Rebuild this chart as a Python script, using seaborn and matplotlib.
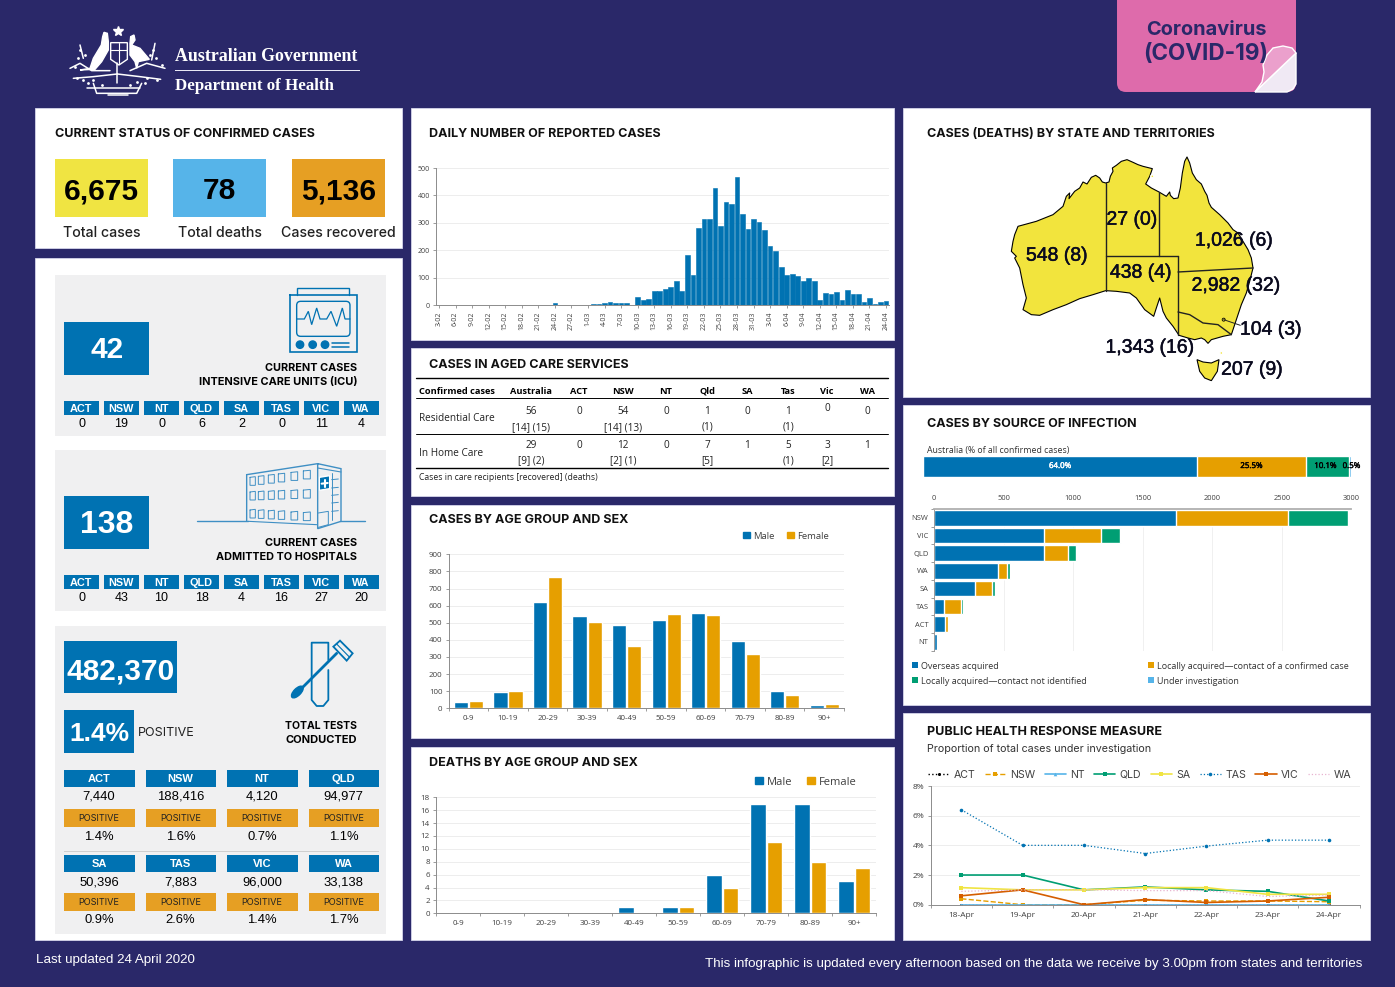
import numpy as np
import pandas as pd
import seaborn as sns
import matplotlib.pyplot as plt
from matplotlib.patches import Rectangle, Polygon, FancyBboxPatch, Circle, Ellipse
from matplotlib.patches import Patch
import matplotlib.patheffects as pe

W, H = 1395, 987
NAVY = '#2A2869'
BLUE = '#0072B2'
ORANGE = '#E69F00'
GREEN = '#009E73'
SKY = '#56B4E9'
YELLOW = '#F0E442'
PANEL_GREY = '#F0F0F1'
HEAD_FONT = 'Inter'
BODY_FONT = 'Open Sans'
NUM_FONT = 'Liberation Sans'

# --- data ---
status_values = ['6,675', '78', '5,136']
status_labels = ['Total cases', 'Total deaths', 'Cases recovered']

states = ['ACT', 'NSW', 'NT', 'QLD', 'SA', 'TAS', 'VIC', 'WA']
icu_cases = [0, 19, 0, 6, 2, 0, 11, 4]
hospital_cases = [0, 43, 10, 18, 4, 16, 27, 20]
tests_done = ['7,440', '188,416', '4,120', '94,977', '50,396', '7,883', '96,000', '33,138']
tests_positive = ['1.4%', '1.6%', '0.7%', '1.1%', '0.9%', '2.6%', '1.4%', '1.7%']

daily_dates = pd.date_range('2020-02-03', '2020-04-24')
daily_cases = [0, 0, 0, 0, 0, 0, 0, 0, 0, 0, 0, 0, 0, 0, 0, 0, 0, 0, 0, 0, 0, 6, 0, 0, 0, 0, 0,
               0, 5, 5, 8, 10, 8, 8, 7, 0, 30, 17, 22, 52, 50, 58, 65, 86, 51, 181, 108, 280, 315,
               313, 426, 287, 377, 367, 468, 331, 279, 313,
               303, 272, 216, 198, 138, 108, 113, 105, 88, 99, 88, 20, 44, 41, 47, 20, 54, 41, 41,
               11, 26, 5, 11, 14]

care_columns = ['Australia', 'ACT', 'NSW', 'NT', 'Qld', 'SA', 'Tas', 'Vic', 'WA']
residential_counts = ['56', '0', '54', '0', '1', '0', '1', '0', '0']
residential_extra = ['[14] (15)', '', '[14] (13)', '', '(1)', '', '(1)', '', '']
home_counts = ['29', '0', '12', '0', '7', '1', '5', '3', '1']
home_extra = ['[9] (2)', '', '[2] (1)', '', '[5]', '', '(1)', '[2]', '']

age_groups = ['0-9', '10-19', '20-29', '30-39', '40-49', '50-59', '60-69', '70-79', '80-89', '90+']
cases_male = [37, 95, 620, 537, 485, 518, 558, 392, 100, 20]
cases_female = [40, 102, 770, 507, 362, 552, 547, 318, 80, 25]
deaths_male = [0, 0, 0, 0, 1, 1, 6, 17, 17, 5]
deaths_female = [0, 0, 0, 0, 0, 1, 4, 11, 8, 7]

source_names = ['Overseas acquired', 'Locally acquired\u2014contact of a confirmed case',
                'Locally acquired\u2014contact not identified', 'Under investigation']
source_share = [64.0, 25.5, 10.1, 0.5]
source_states = ['NSW', 'VIC', 'QLD', 'WA', 'SA', 'TAS', 'ACT', 'NT']
source_overseas = [1737, 791, 791, 462, 295, 74, 77, 22]
source_contact = [808, 409, 172, 63, 124, 122, 21, 3]
source_unknown = [434, 140, 60, 19, 17, 10, 5, 2]
source_pending = [3, 3, 3, 4, 2, 1, 1, 0]

response_days = ['18-Apr', '19-Apr', '20-Apr', '21-Apr', '22-Apr', '23-Apr', '24-Apr']
response_act = [0, 0, 0, 0, 0, 0, 0]
response_nsw = [0.4, 0, 0, 0.3, 0.25, 0.25, 0.2]
response_nt = [0, 0, 0, 0, 0, 0, 0]
response_qld = [2.0, 2.0, 1.0, 1.2, 1.0, 0.9, 0.25]
response_sa = [1.15, 1.0, 1.0, 1.15, 1.15, 0.7, 0.7]
response_tas = [6.4, 4.0, 4.0, 3.45, 3.95, 4.35, 4.35]
response_vic = [0.6, 1.0, 0, 0.35, 0.15, 0.25, 0.5]
response_wa = [0.9, 1.0, 1.0, 0.95, 0.95, 0.55, 0.65]

map_labels = ['548 (8)', '27 (0)', '438 (4)', '1,026 (6)', '2,982 (32)', '104 (3)', '1,343 (16)', '207 (9)']

# map outline
mainland = [(608, 225), (618, 222), (622, 205), (630, 190), (628, 180), (640, 172), (655, 160), (672, 155), (690, 163),
            (705, 170), (720, 175), (748, 182), (740, 205), (728, 228), (745, 240), (768, 252), (790, 265),
            (800, 252), (802, 262), (812, 272), (825, 270), (832, 240), (838, 195), (845, 160), (852, 147),
            (860, 165), (868, 195), (880, 215), (895, 228), (905, 250), (912, 262), (918, 285), (925, 298),
            (950, 320), (975, 345), (990, 365), (1005, 375), (1020, 400), (1035, 425), (1045, 450), (1050, 480),
            (1040, 520), (1030, 555), (1015, 590), (1005, 620), (995, 650), (985, 680), (960, 685), (925, 695),
            (915, 706), (905, 695), (895, 690), (875, 695), (855, 690), (828, 682), (810, 655), (790, 630),
            (780, 610), (770, 570), (760, 600), (752, 625), (725, 605), (700, 570), (680, 555), (640, 550),
            (608, 548), (570, 560), (530, 572), (490, 590), (450, 605), (410, 622), (385, 620), (360, 605),
            (370, 570), (360, 530), (350, 480), (335, 450), (340, 445), (325, 430), (330, 400), (335, 380),
            (345, 355), (400, 340), (450, 320), (480, 295), (490, 265), (500, 255), (498, 272), (515, 250),
            (530, 240), (540, 222), (552, 228), (565, 208), (578, 202), (590, 210), (598, 222)]
tasmania = [(882, 755), (900, 762), (925, 765), (948, 755), (943, 790), (925, 818), (905, 810), (890, 790)]
borders = [[(608, 225), (608, 548)], [(608, 445), (825, 445)], [(769, 252), (769, 445)], [(825, 445), (825, 682)],
           [(825, 492), (1050, 480)], [(825, 612), (860, 620), (900, 645), (945, 650), (985, 680)]]

sns.set_theme(style='white')
plt.rcParams['font.family'] = [BODY_FONT, 'DejaVu Sans']
plt.rcParams['axes.unicode_minus'] = False

fig = plt.figure(figsize=(W / 100 + 0.0001, H / 100 + 0.0001), dpi=100, facecolor=NAVY)
bg = fig.add_axes([0, 0, 1, 1], zorder=0)
bg.set_xlim(0, W)
bg.set_ylim(H, 0)
bg.axis('off')


def px_axes(x0, y0, x1, y1):
    ax = fig.add_axes([x0 / W, 1 - y1 / H, (x1 - x0) / W, (y1 - y0) / H], zorder=2)
    ax.patch.set_alpha(0)
    return ax


def box(x0, y0, x1, y1, color, **kw):
    bg.add_patch(Rectangle((x0, y0), x1 - x0, y1 - y0, facecolor=color, edgecolor=kw.pop('edge', 'none'),
                           linewidth=kw.pop('lw', 0), **kw))


def label(x, y, s, size, ha='center', color='black', font=HEAD_FONT, weight='normal', **kw):
    # va center sits a bit high for caps, so nudge down
    return bg.text(x, y + 1.2, s, fontsize=size, ha=ha, va='center', color=color, family=[font, 'DejaVu Sans'],
                   fontweight=weight, **kw)


def title(x, y, s):
    label(x, y, s, 9.0, ha='left', color='#111111', weight='bold')


def style_chart(ax, tick_size):
    sns.despine(ax=ax)
    ax.set_xlabel('')
    ax.set_ylabel('')
    ax.set_axisbelow(True)
    ax.grid(axis='y', color='#EDEDED', lw=0.7)
    ax.grid(axis='x', visible=False)
    for side in ['left', 'bottom']:
        ax.spines[side].set_color('#8C8C8C')
        ax.spines[side].set_linewidth(0.7)
    ax.tick_params(axis='both', labelsize=tick_size, labelcolor='#404040', color='#8C8C8C', length=2.5,
                   width=0.6, pad=2, bottom=True, left=True)


# --- panels ---
for x0, y0, x1, y1 in [(35, 108, 402, 248), (35, 258, 402, 940), (411, 108, 894, 340), (411, 348, 894, 496),
                       (411, 505, 894, 738), (411, 747, 894, 940), (903, 108, 1370, 397), (903, 405, 1370, 705),
                       (903, 713, 1370, 940)]:
    box(x0, y0, x1, y1, 'white', edge='#D5D5EA', lw=0.6)

# --- header ---
box(175, 70, 360, 71, '#E8E8F4')
label(175, 55, 'Australian Government', 12.85, ha='left', color='white', font='Liberation Serif', weight='bold')
label(175, 85, 'Department of Health', 12.2, ha='left', color='white', font='Liberation Serif', weight='bold')


def logo_xy(points):
    return [(30 + x / 3, y / 3) for x, y in points]


# coat of arms, just a rough sketch
bg.add_patch(Polygon(logo_xy([(242, 128), (292, 128), (292, 178), (267, 195), (242, 178)]), facecolor=NAVY,
                     edgecolor='white', lw=1.0))
bg.add_patch(Polygon(logo_xy([(232, 100), (222, 97), (218, 110), (214, 135), (190, 175), (180, 205), (150, 210),
                              (195, 208), (215, 185), (235, 150), (235, 125)]), facecolor='white'))
bg.add_patch(Polygon(logo_xy([(302, 110), (312, 105), (315, 120), (305, 135), (330, 145), (358, 178), (325, 185),
                              (320, 205), (315, 185), (300, 165), (300, 130)]), facecolor='white'))
bg.plot(30 + 263 / 3, 93 / 3, marker='*', ms=7, color='white')
for pts in [[(120, 205), (150, 190), (185, 212), (240, 212)], [(300, 212), (350, 190), (405, 205)],
            [(130, 235), (190, 230), (262, 222)], [(262, 222), (330, 230), (392, 238)],
            [(262, 190), (262, 250)], [(170, 265), (330, 265)], [(190, 250), (200, 280), (320, 280), (335, 250)],
            [(150, 135), (160, 175)], [(375, 130), (365, 180)], [(235, 285), (295, 285)]]:
    xs, ys = zip(*logo_xy(pts))
    bg.plot(xs, ys, color='white', lw=1.1, solid_capstyle='round')
for pts in [[(242, 150), (292, 150)], [(267, 128), (267, 190)]]:
    xs, ys = zip(*logo_xy(pts))
    bg.plot(xs, ys, color='white', lw=0.8)
flora = [(150, 150), (165, 165), (145, 175), (160, 240), (140, 235), (190, 240), (215, 255), (370, 150), (360, 165),
         (378, 175), (350, 235), (380, 240), (320, 245), (300, 255), (135, 200), (395, 195), (175, 250), (345, 250)]
xs, ys = zip(*logo_xy(flora))
bg.plot(xs, ys, ls='', marker='o', ms=2, color='white', mew=0)

bg.add_patch(FancyBboxPatch((1117, -30), 179, 122, boxstyle='round,pad=0,rounding_size=9', facecolor='#DE6BAB',
                            edgecolor='none'))
bg.add_patch(Polygon([(1296, 53), (1296, 84), (1293, 89), (1287, 92), (1255, 92)], facecolor='#F0E9F4'))
bg.add_patch(Polygon([(1263, 65), (1267, 55), (1273, 48), (1283, 46), (1292, 48), (1296, 53), (1255, 92), (1262, 82),
                      (1264, 72)], facecolor='#EBA0CC'))
label(1206, 29, 'Coronavirus', 14.4, color=NAVY, weight='bold')
label(1206, 53, '(COVID-19)', 16.2, color=NAVY, weight='bold')

# --- current status ---
title(55, 133, 'CURRENT STATUS OF CONFIRMED CASES')
for x0, color, value, name in zip([55, 173, 292], [YELLOW, SKY, '#E69F23'], status_values, status_labels):
    box(x0, 159, x0 + 93, 217, color)
    label(x0 + 46.5, 190, value, 21.5, font=NUM_FONT, weight='bold')
    label(x0 + 46.5, 231.5, name, 10.2, color='#222222', weight=500)


# --- ICU / hospital ---
def state_row(top, values):
    for i, (state, value) in enumerate(zip(states, values)):
        x0 = 64 + 40 * i
        box(x0, top, x0 + 34.5, top + 14.5, BLUE)
        label(x0 + 17, top + 6.5, state, 7.8, color='white', font=NUM_FONT, weight='bold')
        label(x0 + 17.5, top + 21.5, str(value), 9, font=NUM_FONT)


box(55, 275, 386, 436, PANEL_GREY)
box(64, 322, 149, 375, BLUE)
label(107, 349, '42', 21.5, color='white', font=NUM_FONT, weight='bold')
label(357, 367, 'CURRENT CASES', 7.85, ha='right', weight='bold')
label(357, 381, 'INTENSIVE CARE UNITS (ICU)', 7.9, ha='right', weight='bold')
state_row(401, icu_cases)


def icon_a(points):
    return [(35 + x / 3, 258 + y / 3) for x, y in points]


def icon_line(points, lw=1.0, color=BLUE):
    xs, ys = zip(*icon_a(points))
    bg.plot(xs, ys, color=color, lw=lw, solid_joinstyle='miter')


# monitor icon
icon_line([(787, 112), (787, 90), (943, 90), (943, 112)])
icon_line([(765, 112), (967, 112), (967, 283), (765, 283), (765, 112)], 1.2)
bg.add_patch(FancyBboxPatch(icon_a([(785, 130)])[0], 53.3, 35, boxstyle='round,pad=0,rounding_size=4', fill=False,
                            edgecolor=BLUE, lw=1.0))
icon_line([(785, 183), (808, 183), (820, 160), (830, 200), (845, 150), (855, 183), (875, 183), (888, 160), (905, 205),
           (922, 150), (930, 183), (945, 183)], 0.9)
for cx in [795, 833, 870]:
    bg.add_patch(Circle(icon_a([(cx, 260)])[0], 3.7, color=BLUE))
icon_line([(890, 254), (942, 254)], 1.1)
icon_line([(890, 266), (942, 266)], 1.1)

box(55, 450, 386, 611.5, PANEL_GREY)
box(64, 496, 149, 549, BLUE)
label(107, 523.5, '138', 23, color='white', font=NUM_FONT, weight='bold')
label(357, 541.5, 'CURRENT CASES', 7.85, ha='right', weight='bold')
label(357, 555.5, 'ADMITTED TO HOSPITALS', 7.8, ha='right', weight='bold')
state_row(575, hospital_cases)

# hospital icon
SOFT = '#3F8FC4'
icon_line([(485, 790), (640, 790)], 1.0, SOFT)
icon_line([(915, 790), (990, 790)], 1.0, SOFT)
icon_line([(635, 790), (635, 650), (848, 617), (848, 812), (918, 790), (918, 632), (848, 617)], 1.0, SOFT)
icon_line([(848, 630), (918, 642)], 0.8, SOFT)
icon_line([(640, 790), (845, 800)], 0.8, SOFT)
for row, yy in enumerate([672, 716, 770]):
    for col, xx in enumerate([645, 670, 700, 730, 768, 805]):
        rise = (xx - 645) * 0.12 * (1 - row / 2.2)
        drop = (xx - 645) * 0.03 * row
        icon_line([(xx, yy - 14 - rise + drop), (xx + 16 + col, yy - 16 - rise + drop),
                   (xx + 16 + col, yy + 10 - rise + drop), (xx, yy + 10 - rise + drop), (xx, yy - 14 - rise + drop)],
                  0.7, SOFT)
for yy in [665, 690, 712, 735, 760]:
    icon_line([(890, yy), (910, yy - 2)], 0.7, SOFT)
icon_line([(890, 645), (890, 785)], 0.7, SOFT)
bg.add_patch(Polygon(icon_a([(853, 658), (884, 653), (884, 692), (853, 697)]), facecolor=BLUE))
icon_line([(860, 677), (878, 675)], 1.5, 'white')
icon_line([(869, 666), (869, 686)], 1.5, 'white')
icon_line([(850, 765), (880, 760), (880, 800), (850, 808)], 0.7, SOFT)

# --- tests ---
box(55, 626, 386, 934, PANEL_GREY)
box(64, 641, 177, 693, BLUE)
label(120.5, 670, '482,370', 21.5, color='white', font=NUM_FONT, weight='bold')
box(64, 710, 134, 753, BLUE)
label(99, 733, '1.4%', 19, color='white', font=NUM_FONT, weight='bold')
label(138, 732, 'POSITIVE', 9.0, ha='left', color='#222222')
label(357, 724.5, 'TOTAL TESTS', 7.5, ha='right', weight='bold')
label(357, 738.5, 'CONDUCTED', 8.0, ha='right', weight='bold')


def icon_b(points):
    return [(35 + x / 3, 620 + y / 3) for x, y in points]


xs, ys = zip(*icon_b([(880, 120), (880, 68), (830, 68), (830, 240), (845, 258), (865, 258), (880, 240), (880, 150)]))
bg.plot(xs, ys, color=BLUE, lw=1.3)
xs, ys = zip(*icon_b([(785, 220), (905, 100)]))
bg.plot(xs, ys, color=BLUE, lw=2.0)
bg.add_patch(Ellipse(icon_b([(787, 216)])[0], 15, 7, angle=-45, color=BLUE))
bg.add_patch(Polygon(icon_b([(895, 80), (915, 62), (953, 100), (935, 122)]), facecolor=PANEL_GREY, edgecolor=BLUE, lw=1.3))
xs, ys = zip(*icon_b([(905, 72), (944, 112)]))
bg.plot(xs, ys, color=BLUE, lw=0.8)

box(64, 851, 379, 851.7, '#CFCFCF')
for i, state in enumerate(states):
    row, col = divmod(i, 4)
    x0 = 64 + 81.5 * col
    y0 = 770 if row == 0 else 855
    pos_y = 809 if row == 0 else 893
    box(x0, y0, x0 + 70.5, y0 + 17, BLUE)
    label(x0 + 35, y0 + 7.5, state, 8, color='white', font=NUM_FONT, weight='bold')
    label(x0 + 35, y0 + (25.5 if row == 0 else 26), tests_done[i], 9.4, font=NUM_FONT)
    box(x0, pos_y, x0 + 70.5, pos_y + 18, '#E69F23')
    label(x0 + 35, pos_y + 8, 'POSITIVE', 6.6, color='#222222')
    label(x0 + 35, pos_y + (27 if row == 0 else 25.5), tests_positive[i], 9.4, font=NUM_FONT)

# --- daily cases ---
title(429, 133, 'DAILY NUMBER OF REPORTED CASES')
ax = px_axes(436.2, 168, 888.8, 305)
sns.barplot(x=list(range(len(daily_cases))), y=daily_cases, color=BLUE, saturation=1, width=0.85, edgecolor=BLUE,
            linewidth=0.4, ax=ax)
style_chart(ax, 5)
ax.set_ylim(0, 500)
ax.set_yticks(range(0, 501, 100))
ax.set_xlim(-0.5, len(daily_cases) - 0.5)
tick_pos = list(range(0, len(daily_cases), 3))
ax.set_xticks(tick_pos)
ax.set_xticklabels([f'{daily_dates[i].day}-{daily_dates[i].month:02d}' for i in tick_pos], rotation=90)

# --- aged care table ---
title(429, 364, 'CASES IN AGED CARE SERVICES')
for yy, lw in [(378.3, 1.0), (398, 0.7), (434, 0.7), (468, 1.0)]:
    bg.plot([416, 888], [yy, yy], color='black', lw=lw)
col_x = [531, 579, 623, 666, 707, 747, 788, 827, 867]
label(419, 390, 'Confirmed cases', 6.7, ha='left', font=BODY_FONT, weight='bold')
label(419, 417, 'Residential Care', 7.2, ha='left', font=BODY_FONT, color='#222222')
label(419, 452, 'In Home Care', 7.2, ha='left', font=BODY_FONT, color='#222222')
label(419, 476, 'Cases in care recipients [recovered] (deaths)', 6.2, ha='left', font=BODY_FONT, color='#222222')
for i, name in enumerate(care_columns):
    label(col_x[i], 390, name, 6.7, font=BODY_FONT, weight='bold')
    y_top = 407 if name == 'Vic' else 410
    label(col_x[i], y_top, residential_counts[i], 7.2, font=BODY_FONT, color='#222222')
    label(col_x[i], 426, residential_extra[i], 7.2, font=BODY_FONT, color='#222222')
    label(col_x[i], 444.5, home_counts[i], 7.2, font=BODY_FONT, color='#222222')
    label(col_x[i], 459.5, home_extra[i], 7.2, font=BODY_FONT, color='#222222')


# --- age charts ---
def age_chart(rect, male, female, ymax, step, tick_size, legend_xy, legend_size):
    df = pd.DataFrame({'age': age_groups * 2, 'count': male + female,
                       'sex': ['Male'] * len(male) + ['Female'] * len(female)})
    ax = px_axes(*rect)
    sns.barplot(data=df, x='age', y='count', hue='sex', palette=[BLUE, ORANGE], saturation=1, width=0.76, gap=0.06,
                ax=ax)
    style_chart(ax, tick_size)
    ax.set_ylim(0, ymax)
    ax.set_yticks(range(0, ymax + 1, step))
    ax.set_xlim(-0.5, 9.5)
    ax.set_xticks(np.arange(-0.5, 10), minor=True)
    ax.tick_params(axis='x', which='major', length=0, pad=5)
    ax.tick_params(axis='x', which='minor', length=2.5, width=0.6, color='#8C8C8C', bottom=True)
    fx = (legend_xy[0] - rect[0]) / (rect[2] - rect[0])
    fy = (rect[3] - legend_xy[1]) / (rect[3] - rect[1])
    handles = [Patch(color=BLUE, label='Male'), Patch(color=ORANGE, label='Female')]
    ax.legend(handles=handles, loc='center', bbox_to_anchor=(fx, fy), ncol=2, frameon=False, fontsize=legend_size,
              handlelength=0.7, handleheight=0.7, handletextpad=0.35, columnspacing=1.3, labelcolor='#404040')


title(429, 519, 'CASES BY AGE GROUP AND SEX')
age_chart((448.7, 554.3, 844, 708.3), cases_male, cases_female, 900, 100, 5.7, (786, 536), 6.8)
title(429, 762, 'DEATHS BY AGE GROUP AND SEX')
age_chart((436, 797.3, 876, 913.3), deaths_male, deaths_female, 18, 2, 5.8, (806, 782), 8)

# --- map ---
title(927, 133, 'CASES (DEATHS) BY STATE AND TERRITORIES')


def map_xy(points):
    return [(903 + x / 3, 108 + y / 3) for x, y in points]


bg.add_patch(Polygon(map_xy(mainland), facecolor='#F2E43D', edgecolor='black', lw=0.8, joinstyle='round'))
bg.add_patch(Polygon(map_xy(tasmania), facecolor='#F2E43D', edgecolor='black', lw=0.8))
for line in borders:
    xs, ys = zip(*map_xy(line))
    bg.plot(xs, ys, color='#222222', lw=1.0)
xs, ys = zip(*map_xy([(962, 635), (1012, 652)]))
bg.plot(xs, ys, color='#222222', lw=0.7)
bg.add_patch(Circle(map_xy([(962, 635)])[0], 1.5, facecolor='#F2E43D', edgecolor='black', lw=0.6))
# little islands
bg.add_patch(Circle(map_xy([(748, 205)])[0], 1.5, facecolor='#F2E43D'))
bg.add_patch(Circle(map_xy([(955, 735)])[0], 1.5, facecolor='#F2E43D'))
map_pos = [(1057, 255), (1132, 219), (1141, 272), (1234, 240), (1236, 285), (1271, 329), (1150, 347), (1252, 369)]
for (mx, my), text in zip(map_pos, map_labels):
    label(mx, my, text, 14, font=NUM_FONT, color='#0A0A1E',
          path_effects=[pe.withStroke(linewidth=0.35, foreground='#0A0A1E')])

# --- source of infection ---
title(927, 423, 'CASES BY SOURCE OF INFECTION')
label(927, 449.5, 'Australia (% of all confirmed cases)', 6.3, ha='left', font=BODY_FONT, color='#333333')
colors = [BLUE, ORANGE, GREEN, SKY]

ax = px_axes(923.3, 456, 1351, 477)
cum = np.cumsum(source_share)
for value, color in zip(cum[::-1], colors[::-1]):
    sns.barplot(x=[value], y=['Australia'], color=color, saturation=1, width=1, ax=ax)
ax.set_xlim(0, cum[-1])
ax.axis('off')
# the last two labels would collide at the true centres, so 0.5% is pushed right as in the original
label_x = [32.0, 76.8, 94.1, 100.2]
for x_pos, value, tcol in zip(label_x, source_share, ['white', 'black', 'black', 'black']):
    ax.text(x_pos, 0, f'{value}%', ha='center', va='center', fontsize=5.7, color=tcol,
            family=[BODY_FONT, 'DejaVu Sans'], path_effects=[pe.withStroke(linewidth=0.3, foreground=tcol)])

ax = px_axes(934, 509, 1351.3, 650.7)
src = pd.DataFrame({'state': source_states, 'a': source_overseas, 'b': source_contact, 'c': source_unknown,
                    'd': source_pending})
stack = src[['a', 'b', 'c', 'd']].cumsum(axis=1)
for col, color in zip(['d', 'c', 'b', 'a'], colors[::-1]):
    sns.barplot(x=stack[col], y=src['state'], color=color, saturation=1, width=0.88, ax=ax)
sns.despine(ax=ax, top=False, bottom=True, right=True)
ax.set_xlabel('')
ax.set_ylabel('')
ax.set_xlim(0, 3000)
ax.set_ylim(7.5, -0.5)
ax.set_xticks(range(0, 3001, 500))
ax.set_axisbelow(True)
ax.grid(axis='x', color='#F0F0F0', lw=0.7)
ax.grid(axis='y', visible=False)
ax.xaxis.tick_top()
ax.spines['top'].set_color('#B0B0B0')
ax.spines['top'].set_linewidth(1.3)
ax.spines['left'].set_color('#8C8C8C')
ax.spines['left'].set_linewidth(0.6)
ax.tick_params(axis='x', labelsize=5.4, labelcolor='#404040', length=0, pad=5, top=False)
ax.tick_params(axis='y', which='major', labelsize=5.4, labelcolor='#404040', length=0, pad=4)
ax.set_yticks(np.arange(-0.5, 8), minor=True)
ax.tick_params(axis='y', which='minor', length=2.5, width=0.6, color='#8C8C8C', left=True)

for (sx, sy), name, color in zip([(915, 665.5), (1151, 665.5), (915, 680.5), (1151, 680.5)], source_names, colors):
    box(sx - 3, sy - 3, sx + 3, sy + 3, color)
    label(sx + 6, sy - 0.7, name, 6.45, ha='left', font=BODY_FONT, color='#333333')

# --- response measure ---
title(927, 731, 'PUBLIC HEALTH RESPONSE MEASURE')
label(927, 748, 'Proportion of total cases under investigation', 7.7, ha='left', color='#333333')
ax = px_axes(930.7, 786, 1359.7, 904.7)
line_specs = [('ACT', response_act, 'black', ':', 'o', 2.2, 1.0), ('NSW', response_nsw, ORANGE, '--', 's', 2.6, 1.0),
              ('NT', response_nt, SKY, '-', '^', 2.6, 1.2), ('QLD', response_qld, GREEN, '-', 's', 3.3, 1.2),
              ('SA', response_sa, YELLOW, '-', 's', 3.3, 1.2), ('TAS', response_tas, BLUE, ':', 'o', 2.6, 0.9),
              ('VIC', response_vic, '#D55E00', '-', 's', 3.3, 1.2), ('WA', response_wa, '#E8B4D0', ':', None, 0, 0.9)]
for name, values, color, dash, mark, size, width in line_specs:
    sns.lineplot(x=response_days, y=values, color=color, linestyle=dash, marker=mark, markersize=size,
                 markeredgewidth=0, lw=width, sort=False, label=name, errorbar=None, ax=ax)
style_chart(ax, 6)
ax.set_ylim(0, 8)
ax.set_yticks(range(0, 9, 2))
ax.set_yticklabels([f'{v}%' for v in range(0, 9, 2)])
ax.set_xlim(-0.5, 6.5)
ax.set_xticks(np.arange(-0.5, 7), minor=True)
ax.tick_params(axis='x', which='major', length=0, pad=5)
ax.tick_params(axis='x', which='minor', length=2.5, width=0.6, color='#8C8C8C', bottom=True)
ax.legend(loc='center', bbox_to_anchor=(0.487, 1.093), ncol=8, frameon=False, prop={'family': HEAD_FONT, 'size': 7.6},
          handlelength=2.0, handletextpad=0.4, columnspacing=0.9, labelcolor='#404040')

# --- footer ---
label(36, 959, 'Last updated 24 April 2020', 9.6, ha='left', color='white', font=NUM_FONT)
label(1362, 963, 'This infographic is updated every afternoon based on the data we receive by 3.00pm from states and territories',
      9.6, ha='right', color='white', font=NUM_FONT)

fig.savefig('out.png', dpi=100, facecolor=NAVY)
